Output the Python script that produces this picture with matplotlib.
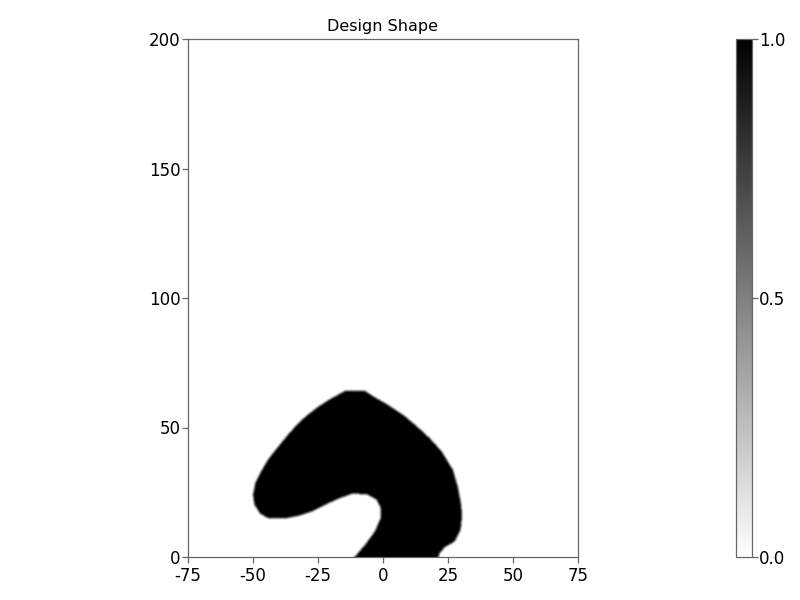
import matplotlib
matplotlib.use("Agg")
import matplotlib.pyplot as plt
import numpy as np
from matplotlib.path import Path

# outline of the design (counterclockwise from bottom right)
outline_x = [21.3, 21.9, 23.8, 27.7, 29.9, 30.5, 30.0, 28.8, 26.9, 22.6, 18.0, 12.8, 7.8, 1.4, -3.7,
             -6.9, -12.7, -14.6, -20.4, -24.9, -29.3, -32.6, -36.4, -40.3, -44.1, -47.3, -49.2, -50.1, -49.5, -47.3,
             -44.1, -37.7, -32.6, -27.4, -22.3, -16.5, -12.0, -6.3, -2.4, -0.8, -0.9, -3.1, -6.9, -10.8]
outline_y = [0.0, 1.4, 3.7, 5.9, 10.4, 16.2, 20.7, 27.1, 33.6, 40.7, 45.8, 50.6, 54.8, 59.0, 61.9,
             64.1, 64.1, 64.1, 60.9, 58.0, 54.6, 51.6, 47.4, 42.6, 37.8, 32.4, 28.5, 23.9, 20.1, 16.6,
             14.8, 14.8, 15.8, 17.5, 20.1, 22.7, 24.3, 24.2, 22.0, 18.8, 14.9, 9.8, 4.6, 0.0]
x_ticks = [-75, -50, -25, 0, 25, 50, 75]
y_ticks = [0, 50, 100, 150, 200]
cbar_ticks = [0.0, 0.5, 1.0]

FRAME = "#666666"
plt.rcParams["font.family"] = "DejaVu Sans"
plt.rcParams["font.size"] = 12
plt.rcParams["axes.unicode_minus"] = False


def design_field():
    # density on a regular grid, 1 inside the outline and 0 outside
    xs = np.arange(-75, 75.25, 0.25)
    ys = np.arange(-2, 200.25, 0.25)
    grid_x, grid_y = np.meshgrid(xs, ys)
    points = np.column_stack([grid_x.ravel(), grid_y.ravel()])
    # close the polygon below the axis so the design runs off the bottom edge
    poly_x = outline_x + [-12.5, 21.3, outline_x[0]]
    poly_y = outline_y + [-2.0, -2.0, outline_y[0]]
    field = Path(np.column_stack([poly_x, poly_y])).contains_points(points).reshape(grid_x.shape).astype(float)
    # soft edge, the reference field is smoothed a little
    kernel = np.ones(5) / 5
    field = np.apply_along_axis(np.convolve, 0, field, kernel, mode="same")
    field = np.apply_along_axis(np.convolve, 1, field, kernel, mode="same")
    return field[8:]


def style_axes(ax):
    for spine in ax.spines.values():
        spine.set_color(FRAME)
        spine.set_linewidth(0.9)
    ax.tick_params(color=FRAME, length=4, width=0.9, labelsize=12, pad=3, labelcolor="black")


fig = plt.figure(figsize=(8, 6), dpi=100)
ax = fig.add_axes([188 / 800, 1 - 557 / 600, 390 / 800, 518 / 600])
image = ax.imshow(design_field(), origin="lower", extent=[-75, 75, 0, 200], cmap="gray_r",
                  vmin=0, vmax=1, aspect="auto", interpolation="bilinear")
ax.set_xlim(-75, 75)
ax.set_ylim(0, 200)
ax.set_xticks(x_ticks)
ax.set_yticks(y_ticks)
ax.set_title("Design Shape", fontsize=11.5, pad=6)
style_axes(ax)
ax.tick_params(axis="y", pad=1.5)

cax = fig.add_axes([736 / 800, 1 - 557 / 600, 16 / 800, 518 / 600])
cbar = fig.colorbar(image, cax=cax)
cbar.set_ticks(cbar_ticks)
cbar.outline.set_edgecolor(FRAME)
cbar.outline.set_linewidth(0.9)
cax.tick_params(color=FRAME, length=4, width=0.9, labelsize=12, pad=1)

fig.savefig("out.png", dpi=100)
plt.close(fig)
